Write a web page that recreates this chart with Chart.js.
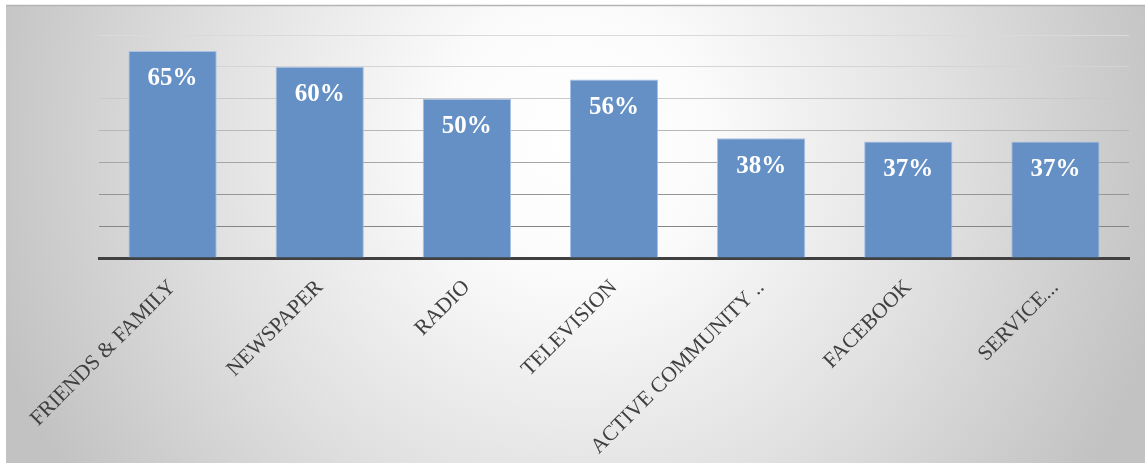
<!DOCTYPE html>
<html>
<head>
<meta charset="utf-8">
<script src="https://cdn.jsdelivr.net/npm/chart.js@4"></script>
<style>
  html, body { margin: 0; padding: 0; background: #fff; }
  #wrap { width: 1145px; height: 463px; }
</style>
</head>
<body>
<div id="wrap"><canvas id="chart"></canvas></div>
<script>
// data
const categories = ['FRIENDS & FAMILY', 'NEWSPAPER', 'RADIO', 'TELEVISION', 'ACTIVE COMMUNITY ..', 'FACEBOOK', 'SERVICE...'];
const shares = [65, 60, 50, 56, 37.6, 36.6, 36.6];
const shareLabels = ['65%', '60%', '50%', '56%', '38%', '37%', '37%'];

const gridColors = { 10: '#858585', 20: '#959595', 30: '#a5a5a5', 40: '#b7b7b7', 50: '#c9c9c9', 60: '#d4d4d4', 70: '#dadada' };

// soft radial background like the office chart style
const backdrop = {
    id: 'backdrop',
    beforeDraw(chart) {
        const ctx = chart.ctx;
        ctx.save();
        ctx.fillStyle = '#ffffff';
        ctx.fillRect(0, 0, chart.width, chart.height);
        const g = ctx.createRadialGradient(575, 140, 0, 575, 140, 610);
        g.addColorStop(0, '#ffffff');
        g.addColorStop(0.22, '#fbfbfb');
        g.addColorStop(0.6, '#e1e1e1');
        g.addColorStop(1, '#c2c2c2');
        ctx.fillStyle = g;
        ctx.fillRect(6, 5, chart.width - 6, chart.height - 5);
        ctx.strokeStyle = '#b4b4b4';
        ctx.lineWidth = 1.5;
        ctx.beginPath();
        ctx.moveTo(6, 5.5);
        ctx.lineTo(chart.width, 5.5);
        ctx.stroke();
        ctx.restore();
    }
};

// white percentage inside the top of each bar
const barLabels = {
    id: 'barLabels',
    afterDatasetsDraw(chart) {
        const ctx = chart.ctx;
        const meta = chart.getDatasetMeta(0);
        ctx.save();
        ctx.font = 'bold 25px "Liberation Serif"';
        ctx.fillStyle = '#ffffff';
        ctx.textAlign = 'center';
        ctx.textBaseline = 'middle';
        meta.data.forEach((bar, i) => {
            ctx.fillText(shareLabels[i], bar.x, bar.y + 28);
        });
        ctx.restore();
    }
};

new Chart(document.getElementById('chart'), {
    type: 'bar',
    data: {
        labels: categories,
        datasets: [{
            data: shares,
            backgroundColor: '#6590c5',
            borderColor: '#a9c2e3',
            borderWidth: 1,
            barPercentage: 0.6,
            categoryPercentage: 1
        }]
    },
    options: {
        responsive: true,
        maintainAspectRatio: false,
        animation: false,
        layout: { padding: { left: 99, top: 35, right: 16, bottom: 0 } },
        plugins: {
            legend: { display: false },
            tooltip: { enabled: false }
        },
        scales: {
            x: {
                grid: { display: false },
                border: { display: true, color: '#404040', width: 3 },
                ticks: {
                    color: '#404040',
                    font: { family: '"Liberation Serif"', size: 21.5 },
                    minRotation: 45,
                    maxRotation: 45,
                    padding: 9,
                    autoSkip: false
                },
                afterFit(scale) { scale.height = 205; }
            },
            y: {
                min: 0,
                max: 70,
                ticks: { display: false, stepSize: 10 },
                border: { display: false },
                grid: {
                    drawTicks: false,
                    lineWidth: 1,
                    color: (c) => c.tick && c.tick.value === 0 ? 'rgba(0,0,0,0)' : (gridColors[c.tick.value] || '#c0c0c0')
                },
                afterFit(scale) { scale.width = 0; }
            }
        }
    },
    plugins: [backdrop, barLabels]
});
</script>
</body>
</html>
